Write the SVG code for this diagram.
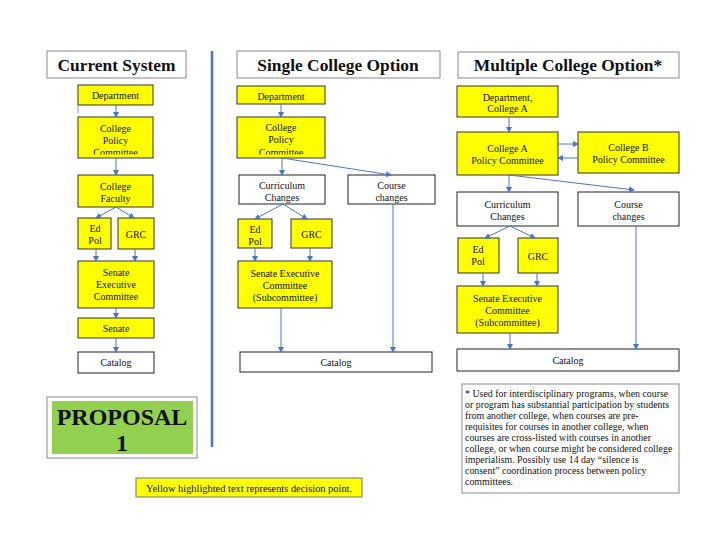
<svg xmlns="http://www.w3.org/2000/svg" width="720" height="557" viewBox="0 0 720 557">
<style>
text{font-family:"Liberation Serif","Times New Roman",serif;fill:#111;text-anchor:middle}
.t{font-size:17.4px;font-weight:bold}
.b{font-size:10px}
.y{fill:#ffff00;stroke:#333;stroke-width:1}
.w{fill:#fff;stroke:#222;stroke-width:1}
.h{fill:#fff;stroke:#8a8a8a;stroke-width:1}
.c{fill:none;stroke:#4a76c6;stroke-width:1;marker-end:url(#ah)}
.n{font-size:9.9px;text-anchor:start}
</style>
<defs>
<marker id="ah" markerWidth="6" markerHeight="6" refX="5" refY="3" orient="auto" markerUnits="userSpaceOnUse">
<path d="M0,0 L6,3 L0,6 z" fill="#4a76c6"/>
</marker>
<clipPath id="k1"><rect x="78" y="117" width="76" height="37.5"/></clipPath>
<clipPath id="k2"><rect x="237" y="117" width="88" height="37.5"/></clipPath>
<clipPath id="k3"><rect x="239" y="175" width="86" height="28.5"/></clipPath>
<clipPath id="k4"><rect x="348" y="175" width="87" height="28.5"/></clipPath>
<clipPath id="k5"><rect x="238" y="219" width="34" height="28.5"/></clipPath>
<clipPath id="k6"><rect x="237" y="86" width="88" height="17.5"/></clipPath>
</defs>

<!-- separator -->
<line x1="212" y1="51" x2="212" y2="447" stroke="#4a76c6" stroke-width="2.5"/>

<!-- Titles -->
<g id="title-current"><rect class="h" x="47" y="51" width="139" height="27"/><text class="t" x="116.5" y="71">Current System</text></g>
<g id="title-single"><rect class="h" x="237" y="51" width="203" height="27"/><text class="t" x="338" y="71">Single College Option</text></g>
<g id="title-multiple"><rect class="h" x="458" y="52" width="221" height="26"/><text class="t" x="568" y="71">Multiple College Option*</text></g>

<!-- Current system -->
<g id="c-dept"><rect class="y" x="78" y="85" width="75" height="20"/><text class="b" x="115.5" y="98.5">Department</text></g>
<line x1="78" y1="105" x2="78" y2="113" stroke="#999" stroke-width="1"/>
<g id="c-cpc"><rect class="y" x="78" y="117" width="75" height="41"/><g clip-path="url(#k1)"><text class="b" x="115.5" y="131.5">College</text><text class="b" x="115.5" y="143.5">Policy</text><text class="b" x="115.5" y="156">Committee</text></g></g>
<g id="c-fac"><rect class="y" x="78" y="175" width="75" height="32"/><text class="b" x="115.5" y="189.5">College</text><text class="b" x="115.5" y="201.5">Faculty</text></g>
<g id="c-edpol"><rect class="y" x="78" y="218" width="33" height="31"/><text class="b" x="95" y="231.5">Ed</text><text class="b" x="95" y="243.5">Pol</text></g>
<g id="c-grc"><rect class="y" x="118" y="218" width="36" height="31"/><text class="b" x="136" y="237.5">GRC</text></g>
<g id="c-sec"><rect class="y" x="78" y="261" width="76" height="47"/><text class="b" x="116" y="275.5">Senate</text><text class="b" x="116" y="287.5">Executive</text><text class="b" x="116" y="299.5">Committee</text></g>
<g id="c-senate"><rect class="y" x="78" y="318" width="76" height="20"/><text class="b" x="116" y="332">Senate</text></g>
<g id="c-catalog"><rect class="w" x="78" y="352" width="76" height="21"/><text class="b" x="116" y="365.5">Catalog</text></g>

<!-- Single college -->
<g id="s-dept"><rect class="y" x="237" y="86" width="88" height="18"/><g clip-path="url(#k6)"><text class="b" x="281" y="100">Department</text></g></g>
<g id="s-cpc"><rect class="y" x="237" y="117" width="88" height="41"/><g clip-path="url(#k2)"><text class="b" x="281" y="130.5">College</text><text class="b" x="281" y="142.5">Policy</text><text class="b" x="281" y="155.5">Committee</text></g></g>
<g id="s-curr"><rect class="w" x="239" y="175" width="86" height="29"/><g clip-path="url(#k3)"><text class="b" x="282" y="188.5">Curriculum</text><text class="b" x="282" y="200.5">Changes</text></g></g>
<g id="s-course"><rect class="w" x="348" y="175" width="87" height="29"/><g clip-path="url(#k4)"><text class="b" x="391.5" y="188.5">Course</text><text class="b" x="391.5" y="200.5">changes</text></g></g>
<g id="s-edpol"><rect class="y" x="238" y="219" width="34" height="29"/><g clip-path="url(#k5)"><text class="b" x="255" y="232.5">Ed</text><text class="b" x="255" y="245">Pol</text></g></g>
<g id="s-grc"><rect class="y" x="291" y="219" width="41" height="29"/><text class="b" x="311.5" y="237.5">GRC</text></g>
<g id="s-sec"><rect class="y" x="238" y="261" width="94" height="47"/><text class="b" x="285" y="277">Senate Executive</text><text class="b" x="285" y="289">Committee</text><text class="b" x="285" y="300.5">(Subcommittee)</text></g>
<g id="s-catalog"><rect class="w" x="240" y="352" width="192" height="20"/><text class="b" x="336" y="365.5">Catalog</text></g>

<!-- Multiple college -->
<g id="m-dept"><rect class="y" x="457" y="86" width="101" height="31"/><text class="b" x="507.5" y="100.5">Department,</text><text class="b" x="507.5" y="112">College A</text></g>
<g id="m-cpca"><rect class="y" x="457" y="132" width="101" height="43"/><text class="b" x="507.5" y="151.5">College A</text><text class="b" x="507.5" y="164">Policy Committee</text></g>
<g id="m-cpcb"><rect class="y" x="578" y="132" width="101" height="41"/><text class="b" x="628.5" y="151">College B</text><text class="b" x="628.5" y="162.5">Policy Committee</text></g>
<g id="m-curr"><rect class="w" x="457" y="192" width="101" height="34"/><text class="b" x="507.5" y="207.5">Curriculum</text><text class="b" x="507.5" y="219.5">Changes</text></g>
<g id="m-course"><rect class="w" x="578" y="192" width="101" height="34"/><text class="b" x="628.5" y="207.5">Course</text><text class="b" x="628.5" y="219.5">changes</text></g>
<g id="m-edpol"><rect class="y" x="458" y="238" width="41" height="35"/><text class="b" x="478" y="252.5">Ed</text><text class="b" x="478" y="265">Pol</text></g>
<g id="m-grc"><rect class="y" x="518" y="238" width="40" height="35"/><text class="b" x="538" y="259.5">GRC</text></g>
<g id="m-sec"><rect class="y" x="457" y="286" width="101" height="47"/><text class="b" x="507.5" y="301.5">Senate Executive</text><text class="b" x="507.5" y="314">Committee</text><text class="b" x="507.5" y="325.5">(Subcommittee)</text></g>
<g id="m-catalog"><rect class="w" x="457" y="349" width="222" height="22"/><text class="b" x="568" y="363.5">Catalog</text></g>

<!-- Footnote -->
<g id="footnote"><rect class="h" x="462" y="384" width="217" height="109"/>
<text class="n" x="465" y="397">* Used for interdisciplinary programs, when course</text>
<text class="n" x="465" y="408">or program has substantial participation by students</text>
<text class="n" x="465" y="419">from another college, when courses are pre-</text>
<text class="n" x="465" y="430">requisites for courses in another college, when</text>
<text class="n" x="465" y="441">courses are cross-listed with courses in another</text>
<text class="n" x="465" y="452">college, or when course might be considered college</text>
<text class="n" x="465" y="463">imperialism. Possibly use 14 day “silence is</text>
<text class="n" x="465" y="474">consent” coordination process between policy</text>
<text class="n" x="465" y="485">committees.</text>
</g>

<!-- Proposal -->
<g id="proposal"><rect class="h" x="47" y="397" width="150" height="61"/><rect x="52" y="401" width="141" height="53" fill="#92d050"/>
<text x="122" y="425" style="font-size:24px;font-weight:bold">PROPOSAL</text><text x="122" y="451" style="font-size:24px;font-weight:bold">1</text></g>

<!-- Legend -->
<g id="legend"><rect x="136" y="478" width="226" height="19" fill="#ffff00" stroke="#777" stroke-width="1"/><text x="249" y="491.5" style="font-size:10.4px">Yellow highlighted text represents decision point.</text></g>

<!-- Connectors -->
<g id="connectors">
<path class="c" d="M116,105 V117"/>
<path class="c" d="M116,158 V175"/>
<path class="c" d="M116,207 L96,218"/>
<path class="c" d="M116,207 L134,218"/>
<path class="c" d="M96,249 V261"/>
<path class="c" d="M135,249 V261"/>
<path class="c" d="M116,308 V318"/>
<path class="c" d="M116,338 V352"/>

<path class="c" d="M281,104 V117"/>
<path class="c" d="M282,158 V175"/>
<path class="c" d="M282,158 L391,175"/>
<path class="c" d="M283,204 L255,219"/>
<path class="c" d="M283,204 L307,219"/>
<path class="c" d="M255,248 V261"/>
<path class="c" d="M310,248 V261"/>
<path class="c" d="M281,308 V352"/>
<path class="c" d="M393,204 V352"/>

<path class="c" d="M509,117 V132"/>
<path class="c" d="M558,144 H578"/>
<path class="c" d="M578,158 H558"/>
<path class="c" d="M509,175 V192"/>
<path class="c" d="M509,175 L634,190"/>
<path class="c" d="M510,226 L485,238"/>
<path class="c" d="M510,226 L535,238"/>
<path class="c" d="M483,273 V286"/>
<path class="c" d="M537,273 V286"/>
<path class="c" d="M510,333 V349"/>
<path class="c" d="M636,226 V349"/>
</g>
</svg>
